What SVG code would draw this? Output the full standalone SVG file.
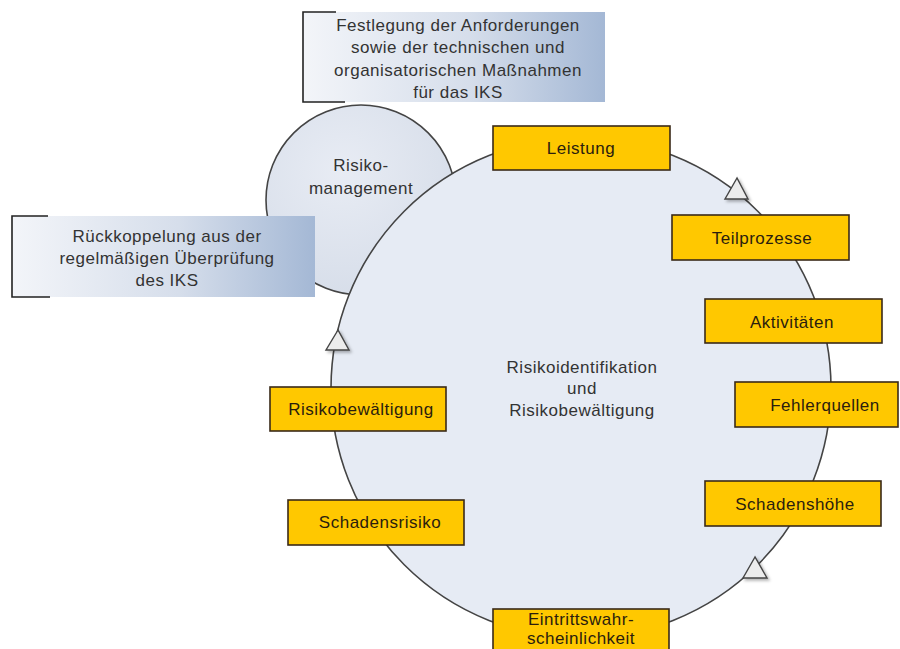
<svg xmlns="http://www.w3.org/2000/svg" width="900" height="649" viewBox="0 0 900 649">
<style>
text{font-family:"Liberation Sans",Arial,sans-serif;font-size:17px;text-anchor:middle;letter-spacing:0.5px}
.dark{fill:#333}
.ytxt{fill:#2b1d0e}
.ybox{fill:#ffc800;stroke:#3a2a18;stroke-width:1.6}
.circ{stroke:#444;stroke-width:1.6}
.brk{fill:none;stroke:#222;stroke-width:1.6}
.tri{fill:#ececec;stroke:#444;stroke-width:1.4;filter:url(#sh)}
</style>
<defs>
<linearGradient id="gbox" x1="0" y1="0" x2="1" y2="0">
<stop offset="0" stop-color="#f3f5f9"/>
<stop offset="0.55" stop-color="#d6deeb"/>
<stop offset="1" stop-color="#a4b8d5"/>
</linearGradient>
<radialGradient id="gsmall" cx="0.4" cy="0.35" r="0.7">
<stop offset="0" stop-color="#e8ecf4"/>
<stop offset="1" stop-color="#d6dde9"/>
</radialGradient>
<filter id="sh" x="-50%" y="-50%" width="200%" height="200%">
<feDropShadow dx="2" dy="2" stdDeviation="1.5" flood-color="#000" flood-opacity="0.3"/>
</filter>
</defs>

<g id="risikomanagement">
<circle class="circ" cx="361" cy="200" r="95" fill="url(#gsmall)"/>
<text class="dark" x="361" y="171">Risiko-</text>
<text class="dark" x="361" y="194">management</text>
</g>

<g id="zyklus">
<circle class="circ" cx="581" cy="388" r="250" fill="#e6ebf4"/>
<text class="dark" x="582" y="373">Risikoidentifikation</text>
<text class="dark" x="582" y="394">und</text>
<text class="dark" x="582" y="416">Risikobewältigung</text>
</g>

<g id="connectors">
<polygon class="tri" points="737,178 725,199 748,199"/>
<polygon class="tri" points="755,557 743,578 767,578"/>
<polygon class="tri" points="338,330 326,350 349,350"/>
</g>

<g id="note-festlegung">
<rect x="303" y="12" width="302" height="90" fill="url(#gbox)"/>
<polyline class="brk" points="336,12 303,12 303,102 345,102"/>
<text class="dark" x="458" y="31">Festlegung der Anforderungen</text>
<text class="dark" x="458" y="53">sowie der technischen und</text>
<text class="dark" x="458" y="76">organisatorischen Maßnahmen</text>
<text class="dark" x="458" y="98">für das IKS</text>
</g>

<g id="note-rueckkopplung">
<rect x="12" y="216" width="303" height="81" fill="url(#gbox)"/>
<polyline class="brk" points="48,216 12,216 12,297 50,297"/>
<text class="dark" x="167" y="242">Rückkoppelung aus der</text>
<text class="dark" x="167" y="264">regelmäßigen Überprüfung</text>
<text class="dark" x="167" y="286">des IKS</text>
</g>

<g id="leistung">
<rect class="ybox" x="493" y="126" width="177" height="44"/>
<text class="ytxt" x="581" y="154">Leistung</text>
</g>
<g id="teilprozesse">
<rect class="ybox" x="672" y="215" width="177" height="45"/>
<text class="ytxt" x="762" y="244">Teilprozesse</text>
</g>
<g id="aktivitaeten">
<rect class="ybox" x="705" y="299" width="177" height="44"/>
<text class="ytxt" x="792" y="328">Aktivitäten</text>
</g>
<g id="fehlerquellen">
<rect class="ybox" x="735" y="382" width="163" height="45"/>
<text class="ytxt" x="825" y="411">Fehlerquellen</text>
</g>
<g id="schadenshoehe">
<rect class="ybox" x="705" y="481" width="176" height="45"/>
<text class="ytxt" x="795" y="510">Schadenshöhe</text>
</g>
<g id="eintrittswahrscheinlichkeit">
<rect class="ybox" x="493" y="609" width="176" height="50"/>
<text class="ytxt" x="581" y="625">Eintrittswahr-</text>
<text class="ytxt" x="581" y="644">scheinlichkeit</text>
</g>
<g id="schadensrisiko">
<rect class="ybox" x="288" y="500" width="176" height="45"/>
<text class="ytxt" x="380" y="528">Schadensrisiko</text>
</g>
<g id="risikobewaeltigung">
<rect class="ybox" x="270" y="387" width="176" height="44"/>
<text class="ytxt" x="361" y="415">Risikobewältigung</text>
</g>
</svg>
